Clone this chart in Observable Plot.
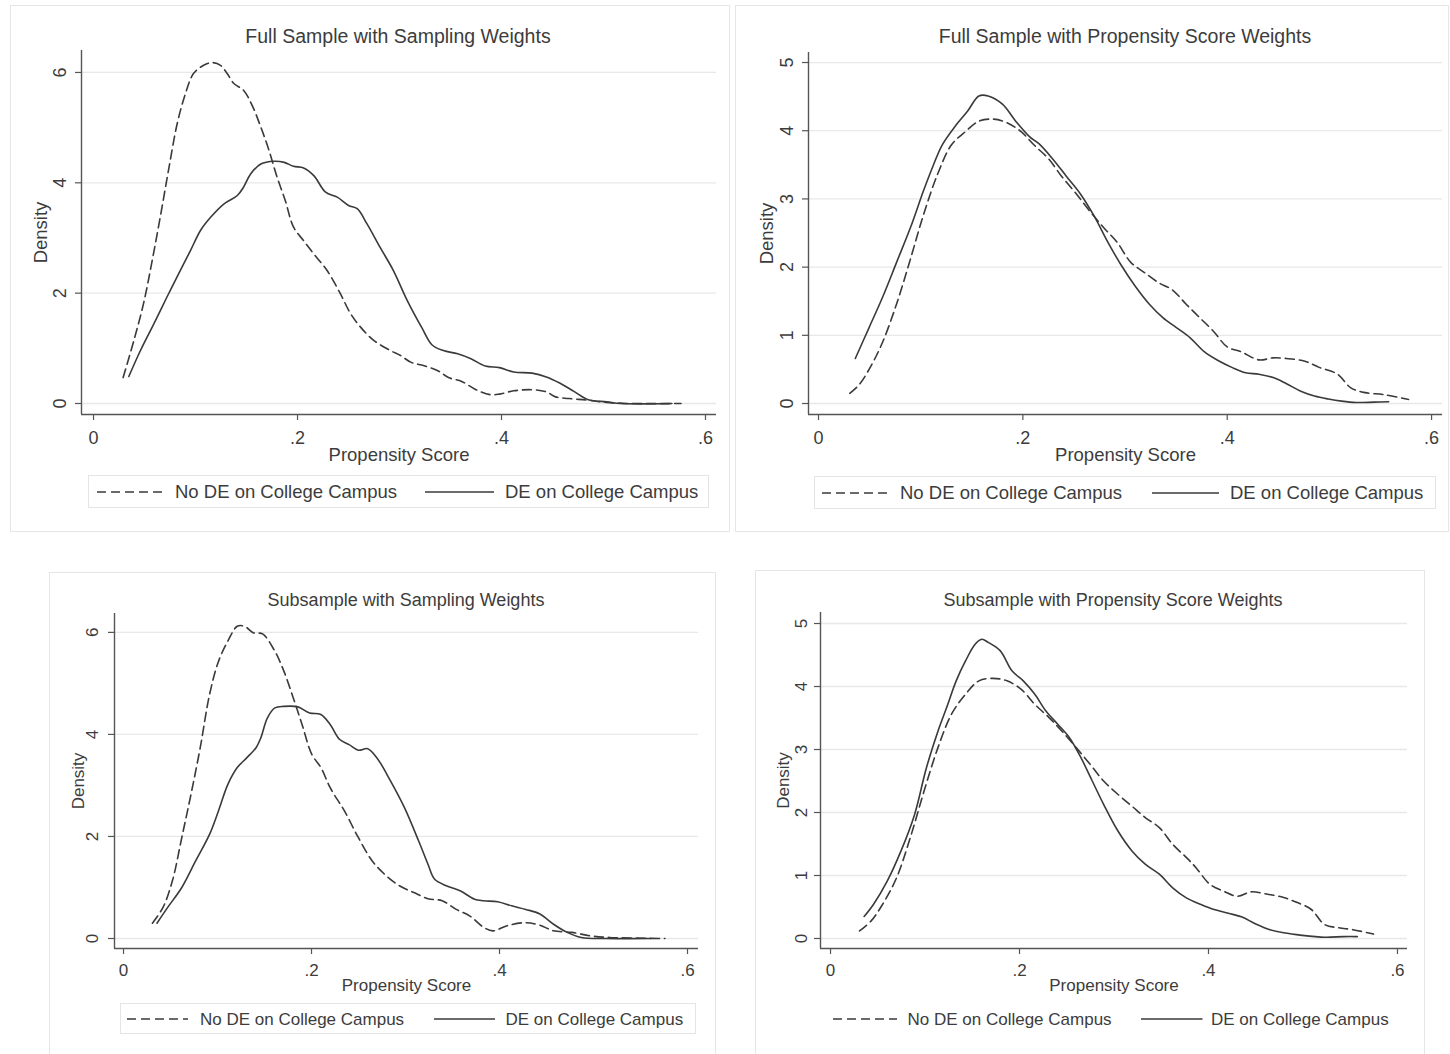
<!DOCTYPE html>
<html><head><meta charset="utf-8">
<script src="https://cdn.jsdelivr.net/npm/d3@7"></script>
<script src="https://cdn.jsdelivr.net/npm/@observablehq/plot@0.6"></script>
<style>
body{margin:0;background:#fff;font-family:"Liberation Sans",Arial,sans-serif;color:#3c3c3c}
#root{position:relative;width:1450px;height:1054px;overflow:hidden;background:#fff}
.frame{position:absolute;border:1px solid #e6e6e6;box-sizing:border-box}
.title{position:absolute;transform:translate(-50%,-50%);white-space:nowrap;line-height:1}
.plot{position:absolute}
.legend{position:absolute;box-sizing:border-box}
.leg{position:absolute;white-space:nowrap;line-height:1;transform:translateY(-50%)}
.legsvg{position:absolute;overflow:visible}
</style></head><body><div id="root"></div>
<script>
// ---------- text ----------
const titles = [
  "Full Sample with Sampling Weights",
  "Full Sample with Propensity Score Weights",
  "Subsample with Sampling Weights",
  "Subsample with Propensity Score Weights"
];
const seriesNames = ["No DE on College Campus", "DE on College Campus"];
const xLabel = "Propensity Score";
const yLabel = "Density";

// ---------- ticks ----------
const xTicks = [0, 0.2, 0.4, 0.6];
const xTickLabels = ["0", ".2", ".4", ".6"];
const yTicksSampling = [0, 2, 4, 6];
const yTicksPropensity = [0, 1, 2, 3, 4, 5];

// ---------- series: [propensity score, density] ----------
const p1NoDE = [[0.029,0.47],[0.0395,1.14],[0.049,1.81],[0.0575,2.59],[0.066,3.44],[0.074,4.28],[0.082,5.07],[0.090,5.61],[0.098,5.98],[0.108,6.13],[0.116,6.18],[0.1245,6.13],[0.131,5.98],[0.1376,5.80],[0.1474,5.67],[0.1556,5.40],[0.164,5.01],[0.172,4.59],[0.180,4.10],[0.188,3.68],[0.196,3.20],[0.206,2.95],[0.216,2.71],[0.229,2.41],[0.242,1.99],[0.252,1.63],[0.262,1.38],[0.275,1.14],[0.291,0.96],[0.301,0.87],[0.311,0.75],[0.325,0.68],[0.338,0.59],[0.348,0.47],[0.361,0.40],[0.375,0.25],[0.389,0.16],[0.398,0.17],[0.412,0.23],[0.430,0.25],[0.444,0.21],[0.453,0.12],[0.466,0.09],[0.485,0.06],[0.503,0.02],[0.526,0.0],[0.576,0.0]];
const p1DE = [[0.0346,0.49],[0.046,0.96],[0.059,1.44],[0.072,1.93],[0.085,2.41],[0.095,2.77],[0.105,3.14],[0.115,3.38],[0.128,3.62],[0.141,3.77],[0.147,3.92],[0.154,4.16],[0.164,4.34],[0.177,4.39],[0.187,4.37],[0.196,4.30],[0.206,4.27],[0.216,4.13],[0.2275,3.83],[0.239,3.74],[0.250,3.59],[0.2585,3.53],[0.268,3.26],[0.281,2.83],[0.294,2.41],[0.3075,1.87],[0.322,1.37],[0.332,1.06],[0.343,0.96],[0.357,0.90],[0.370,0.81],[0.384,0.68],[0.398,0.65],[0.412,0.57],[0.430,0.55],[0.444,0.48],[0.457,0.37],[0.471,0.22],[0.485,0.07],[0.503,0.03],[0.517,0.0],[0.567,0.0]];

const p2NoDE = [[0.0306,0.15],[0.040,0.28],[0.0517,0.56],[0.063,0.91],[0.0764,1.46],[0.090,2.12],[0.103,2.78],[0.117,3.38],[0.130,3.79],[0.144,3.99],[0.157,4.14],[0.171,4.17],[0.184,4.12],[0.198,3.99],[0.211,3.79],[0.225,3.59],[0.238,3.33],[0.252,3.08],[0.265,2.83],[0.279,2.58],[0.292,2.37],[0.3056,2.07],[0.319,1.92],[0.333,1.77],[0.346,1.67],[0.3596,1.46],[0.373,1.26],[0.3865,1.06],[0.400,0.83],[0.4135,0.76],[0.431,0.64],[0.445,0.67],[0.458,0.66],[0.476,0.62],[0.490,0.53],[0.508,0.43],[0.521,0.23],[0.535,0.16],[0.553,0.13],[0.5775,0.06]];
const p2DE = [[0.036,0.66],[0.0494,1.11],[0.063,1.57],[0.0764,2.07],[0.090,2.58],[0.103,3.13],[0.112,3.48],[0.121,3.79],[0.135,4.09],[0.146,4.29],[0.157,4.51],[0.166,4.51],[0.180,4.39],[0.193,4.14],[0.2067,3.91],[0.2157,3.81],[0.229,3.59],[0.2427,3.33],[0.256,3.08],[0.2697,2.75],[0.283,2.37],[0.2966,2.02],[0.310,1.72],[0.3236,1.46],[0.337,1.26],[0.3506,1.11],[0.364,0.96],[0.3775,0.76],[0.391,0.63],[0.4045,0.53],[0.418,0.45],[0.431,0.43],[0.445,0.38],[0.458,0.29],[0.472,0.18],[0.4854,0.11],[0.499,0.066],[0.512,0.035],[0.526,0.015],[0.544,0.02],[0.558,0.025]];

const p3NoDE = [[0.0307,0.30],[0.042,0.61],[0.052,1.13],[0.062,1.98],[0.0717,2.82],[0.0816,3.74],[0.0915,4.78],[0.101,5.43],[0.111,5.83],[0.121,6.12],[0.1286,6.12],[0.1385,5.99],[0.148,5.97],[0.161,5.63],[0.1706,5.24],[0.1805,4.72],[0.190,4.19],[0.2003,3.61],[0.210,3.35],[0.220,2.95],[0.235,2.50],[0.2498,1.98],[0.2646,1.52],[0.2795,1.23],[0.294,1.03],[0.309,0.90],[0.324,0.78],[0.339,0.74],[0.354,0.57],[0.3685,0.44],[0.383,0.22],[0.393,0.15],[0.408,0.25],[0.428,0.31],[0.443,0.26],[0.4575,0.15],[0.477,0.12],[0.497,0.05],[0.517,0.02],[0.576,0.0]];
const p3DE = [[0.0356,0.30],[0.047,0.61],[0.062,1.00],[0.0767,1.52],[0.0915,2.04],[0.101,2.50],[0.111,3.02],[0.121,3.35],[0.131,3.54],[0.141,3.74],[0.146,3.93],[0.153,4.32],[0.161,4.52],[0.1706,4.55],[0.1855,4.54],[0.198,4.42],[0.210,4.39],[0.220,4.19],[0.230,3.90],[0.240,3.80],[0.2498,3.69],[0.2597,3.72],[0.2696,3.54],[0.284,3.09],[0.299,2.56],[0.314,1.91],[0.324,1.45],[0.331,1.16],[0.344,1.03],[0.3586,0.93],[0.3735,0.77],[0.383,0.74],[0.398,0.72],[0.413,0.64],[0.428,0.57],[0.443,0.48],[0.4575,0.28],[0.472,0.12],[0.487,0.02],[0.512,0.0],[0.561,0.0]];

const p4NoDE = [[0.0307,0.12],[0.043,0.28],[0.055,0.54],[0.0698,0.96],[0.0844,1.60],[0.099,2.34],[0.1137,3.03],[0.128,3.56],[0.143,3.88],[0.157,4.09],[0.172,4.13],[0.1868,4.09],[0.2015,3.96],[0.216,3.72],[0.231,3.51],[0.245,3.29],[0.260,3.03],[0.275,2.76],[0.289,2.50],[0.304,2.29],[0.319,2.10],[0.333,1.92],[0.348,1.76],[0.3624,1.49],[0.377,1.28],[0.387,1.12],[0.4015,0.86],[0.416,0.75],[0.431,0.67],[0.445,0.74],[0.460,0.71],[0.4795,0.65],[0.494,0.57],[0.5088,0.46],[0.523,0.22],[0.538,0.17],[0.5527,0.14],[0.5746,0.07]];
const p4DE = [[0.0356,0.35],[0.0454,0.54],[0.060,0.91],[0.0746,1.39],[0.089,1.97],[0.1015,2.71],[0.1137,3.29],[0.123,3.67],[0.133,4.09],[0.143,4.41],[0.153,4.67],[0.160,4.75],[0.167,4.70],[0.1795,4.57],[0.192,4.25],[0.204,4.09],[0.216,3.88],[0.228,3.61],[0.2405,3.40],[0.2527,3.19],[0.265,2.87],[0.277,2.50],[0.289,2.13],[0.304,1.71],[0.319,1.39],[0.333,1.18],[0.348,1.02],[0.3624,0.80],[0.377,0.64],[0.392,0.54],[0.406,0.46],[0.421,0.40],[0.4356,0.34],[0.450,0.23],[0.465,0.14],[0.4795,0.09],[0.499,0.05],[0.523,0.02],[0.543,0.03],[0.5575,0.03]];

// ---------- layout ----------
const FONT = '"Liberation Sans", Arial, sans-serif';
const INK = "#3c3c3c";
const LINE = "#3a3a3a";
const AXIS = "#555";
const panels = [
  {title: titles[0], noDE: p1NoDE, de: p1DE, yt: yTicksSampling,
   frame: [10, 5, 720, 527], svg: [0, 0, 730, 470], m: [81, 14, 50, 56],
   xd: [-0.0118, 0.6108], yd: [-0.1994, 6.398],
   tfs: 19.5, fs: 18.5, tkfs: 18, titleXY: [398, 36.5], densOff: 40, xlabDy: 41, xTickPad: 11, yTickPad: 9.5,
   legend: {box: [88, 475, 621, 33], cy: 492, dash: [97, 165], t1: 175, solid: [425, 494], t2: 505}},
  {title: titles[1], noDE: p2NoDE, de: p2DE, yt: yTicksPropensity,
   frame: [735, 5, 714, 527], svg: [730, 0, 720, 470], m: [78, 8, 52, 56],
   xd: [-0.0098, 0.6107], yd: [-0.161, 5.147],
   tfs: 19.5, fs: 18.5, tkfs: 18, titleXY: [1125, 36.5], densOff: 41, xlabDy: 41, xTickPad: 11, yTickPad: 10,
   legend: {box: [814, 476, 622, 33], cy: 492.5, dash: [822, 888], t1: 900, solid: [1152, 1219], t2: 1230}},
  {title: titles[2], noDE: p3NoDE, de: p3DE, yt: yTicksSampling,
   frame: [49, 572, 667, 500], svg: [0, 560, 730, 420], m: [114, 32, 53, 32],
   xd: [-0.0096, 0.6117], yd: [-0.196, 6.37],
   tfs: 18, fs: 17, tkfs: 17, titleXY: [406, 600], densOff: 36, xlabDy: 37, xTickPad: 9, yTickPad: 11,
   legend: {box: [120, 1003, 576, 31], cy: 1019, dash: [127, 188], t1: 200, solid: [434, 495], t2: 505.5}},
  {title: titles[3], noDE: p4NoDE, de: p4DE, yt: yTicksPropensity,
   frame: [755, 570, 670, 500], svg: [730, 560, 720, 420], m: [90, 43, 52, 32],
   xd: [-0.0106, 0.6106], yd: [-0.159, 5.175],
   tfs: 18, fs: 17, tkfs: 17, titleXY: [1113, 600], densOff: 36.5, xlabDy: 37, xTickPad: 9, yTickPad: 8,
   legend: {box: null, cy: 1019, dash: [833, 897], t1: 907.5, solid: [1140.5, 1202], t2: 1211}}
];

const root = document.getElementById("root");
const xLabelOf = new Map(xTicks.map((t, i) => [t, xTickLabels[i]]));

function el(tag, cls, css) {
  const e = document.createElement(tag);
  if (cls) e.className = cls;
  Object.assign(e.style, css || {});
  root.appendChild(e);
  return e;
}

for (const p of panels) {
  // outer frame
  el("div", "frame", {left: p.frame[0] + "px", top: p.frame[1] + "px", width: p.frame[2] + "px", height: p.frame[3] + "px"});

  const rows = [
    ...p.noDE.map(([x, y]) => ({x, y, s: seriesNames[0]})),
    ...p.de.map(([x, y]) => ({x, y, s: seriesNames[1]}))
  ];

  const chart = Plot.plot({
    width: p.svg[2], height: p.svg[3],
    marginLeft: p.m[0], marginRight: p.m[1], marginTop: p.m[2], marginBottom: p.m[3],
    style: {fontFamily: FONT, fontSize: p.tkfs + "px", color: INK, background: "transparent", overflow: "visible"},
    x: {domain: p.xd},
    y: {domain: p.yd},
    marks: [
      Plot.gridY({ticks: p.yt, stroke: "#e8e8e8", strokeOpacity: 1, strokeWidth: 1.3}),
      Plot.ruleX([p.xd[0]], {stroke: AXIS, strokeWidth: 1.4}),
      Plot.ruleY([p.yd[0]], {stroke: AXIS, strokeWidth: 1.4}),
      Plot.axisX({ticks: xTicks, tickFormat: d => xLabelOf.get(d), tickSize: 6, tickPadding: p.xTickPad,
        stroke: AXIS, strokeWidth: 1.2, label: null, fill: INK}),
      Plot.axisY({ticks: p.yt, tickFormat: d => String(d), tickRotate: -90, tickSize: 6, tickPadding: p.yTickPad,
        stroke: AXIS, strokeWidth: 1.2, label: null, fill: INK}),
      Plot.line(rows.filter(d => d.s === seriesNames[0]), {x: "x", y: "y", curve: "catmull-rom",
        stroke: LINE, strokeWidth: 1.6, strokeDasharray: "9,5"}),
      Plot.line(rows.filter(d => d.s === seriesNames[1]), {x: "x", y: "y", curve: "catmull-rom",
        stroke: LINE, strokeWidth: 1.6}),
      Plot.text([yLabel], {text: d => d, frameAnchor: "left", dx: -p.densOff, rotate: -90,
        textAnchor: "middle", lineAnchor: "middle", fontSize: p.fs, fill: INK}),
      Plot.text([xLabel], {text: d => d, frameAnchor: "bottom", dy: p.xlabDy,
        textAnchor: "middle", lineAnchor: "middle", fontSize: p.fs, fill: INK})
    ]
  });
  chart.classList.add("plot");
  chart.style.left = p.svg[0] + "px";
  chart.style.top = p.svg[1] + "px";
  chart.style.position = "absolute";
  root.appendChild(chart);

  // title
  const t = el("div", "title", {left: p.titleXY[0] + "px", top: p.titleXY[1] + "px", fontSize: p.tfs + "px", color: INK});
  t.textContent = p.title;

  // legend
  const L = p.legend;
  if (L.box) {
    el("div", "legend", {left: L.box[0] + "px", top: L.box[1] + "px", width: L.box[2] + "px", height: L.box[3] + "px",
      border: "1px solid #e4e4e4"});
  }
  const ns = "http://www.w3.org/2000/svg";
  const samples = [[L.dash, "9,5"], [L.solid, null]];
  samples.forEach(([[x0, x1], dash]) => {
    const s = document.createElementNS(ns, "svg");
    s.setAttribute("width", x1 - x0); s.setAttribute("height", 4);
    s.setAttribute("class", "legsvg");
    s.style.left = x0 + "px"; s.style.top = (L.cy - 2) + "px";
    const ln = document.createElementNS(ns, "line");
    ln.setAttribute("x1", 0); ln.setAttribute("x2", x1 - x0);
    ln.setAttribute("y1", 2); ln.setAttribute("y2", 2);
    ln.setAttribute("stroke", LINE); ln.setAttribute("stroke-width", 1.6);
    if (dash) ln.setAttribute("stroke-dasharray", dash);
    s.appendChild(ln);
    root.appendChild(s);
  });
  const a = el("div", "leg", {left: L.t1 + "px", top: L.cy + "px", fontSize: p.fs + "px", color: INK});
  a.textContent = seriesNames[0];
  const b = el("div", "leg", {left: L.t2 + "px", top: L.cy + "px", fontSize: p.fs + "px", color: INK});
  b.textContent = seriesNames[1];
}
</script></body></html>
